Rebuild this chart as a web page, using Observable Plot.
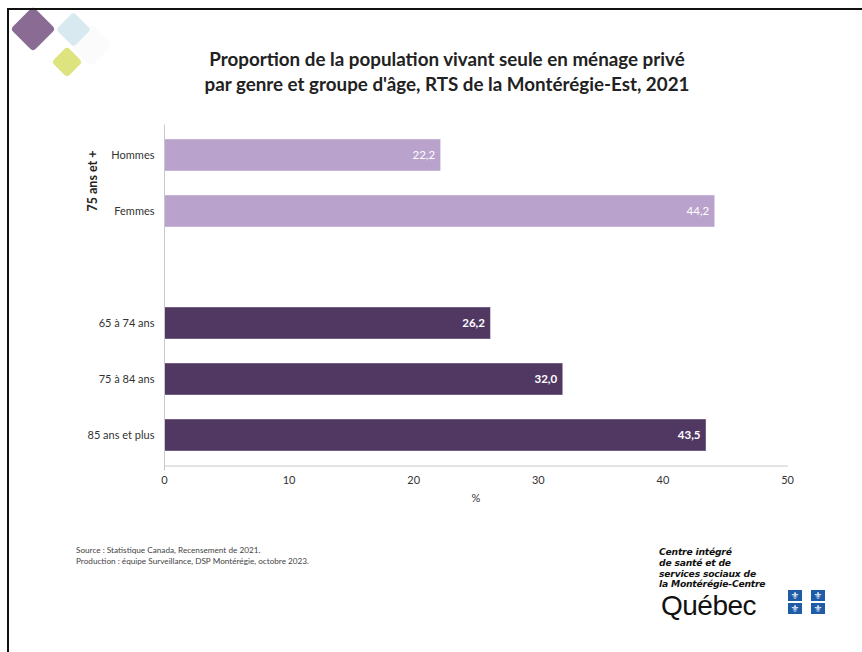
<!DOCTYPE html>
<html>
<head>
<meta charset="utf-8">
<script src="https://cdn.jsdelivr.net/npm/d3@7"></script>
<script src="https://cdn.jsdelivr.net/npm/@observablehq/plot@0.6"></script>
<style>
  html, body { margin: 0; padding: 0; background: #fff; }
  #page { position: relative; width: 862px; height: 652px; overflow: hidden; background: #fff; font-family: Lato, "Open Sans", sans-serif; }
  .border-top { position: absolute; left: 7px; top: 8px; width: 860px; height: 2px; background: #111; }
  .border-left { position: absolute; left: 7px; top: 8px; width: 2px; height: 650px; background: #111; }
  .dia { position: absolute; transform: rotate(45deg); border-radius: 4px; }
  #title { position: absolute; left: 0; width: 894px; top: 46px; text-align: center; font-weight: 700; font-size: 18.8px; line-height: 25px; color: #222; }
  #chart { position: absolute; left: 0; top: 110px; }
  #group { position: absolute; left: 92px; top: 181px; transform: translate(-50%, -50%) rotate(-90deg); font-weight: 700; font-size: 12.5px; color: #222; white-space: nowrap; }
  #source { position: absolute; left: 76px; top: 545px; font-size: 8.2px; line-height: 11px; color: #444; }
  #logo { position: absolute; left: 646px; top: 540px; width: 190px; height: 86px; }
  #logo .txt { position: absolute; left: 13px; top: 7px; font-family: "DejaVu Sans", sans-serif; font-weight: 700; font-style: italic; font-size: 9.2px; line-height: 10.8px; color: #111; letter-spacing: -0.2px; }
  #logo .qc { position: absolute; left: 15px; top: 52px; font-family: "Liberation Sans", Arial, sans-serif; font-size: 28px; line-height: 28px; color: #111; letter-spacing: -0.5px; }
  #logo .flag { position: absolute; width: 14px; height: 11px; background: #1f5ca8; color: #fff; font-size: 10px; line-height: 11px; text-align: center; font-family: "DejaVu Sans", sans-serif; }
</style>
</head>
<body>
<div id="page">
  <div class="dia" style="left:76px;top:30px;width:30px;height:30px;background:#fbfbfb;"></div>
  <div class="dia" style="left:17px;top:13px;width:32px;height:32px;background:#8a6b94;"></div>
  <div class="dia" style="left:61px;top:17px;width:25px;height:25px;background:#d7e8ef;opacity:0.95;"></div>
  <div class="dia" style="left:56px;top:51px;width:22px;height:22px;background:#dde37f;"></div>
  <div class="border-top"></div>
  <div class="border-left"></div>
  <div id="title">Proportion de la population vivant seule en ménage privé<br>par genre et groupe d'âge, RTS de la Montérégie-Est, 2021</div>
  <div id="chart"></div>
  <div id="group">75 ans et +</div>
  <div id="source">Source : Statistique Canada, Recensement de 2021.<br>Production : équipe Surveillance, DSP Montérégie, octobre 2023.</div>
  <div id="logo">
    <div class="txt">Centre intégré<br>de santé et de<br>services sociaux de<br>la Montérégie-Centre</div>
    <div class="qc">Québec</div>
    <div class="flag" style="left:142px;top:50px;">⚜</div>
    <div class="flag" style="left:165px;top:50px;">⚜</div>
    <div class="flag" style="left:142px;top:63px;">⚜</div>
    <div class="flag" style="left:165px;top:63px;">⚜</div>
  </div>
</div>
<script>
// ---- data ----
const categories = ["Hommes", "Femmes", " ", "65 à 74 ans", "75 à 84 ans", "85 ans et plus"];
const values     = [22.2, 44.2, null, 26.2, 32.0, 43.5];
const groups     = ["75 ans et +", "75 ans et +", null, "Ensemble", "Ensemble", "Ensemble"];
const xTicks     = [0, 10, 20, 30, 40, 50];

const groupDomain = ["75 ans et +", "Ensemble"];
const groupColors = ["#b9a3cc", "#503863"];

const rows = categories.map((c, i) => ({cat: c, value: values[i], group: groups[i]})).filter(d => d.value != null);
const fmt = v => v.toFixed(1).replace(".", ",");

const chart = Plot.plot({
  width: 862,
  height: 410,
  marginLeft: 164,
  marginRight: 75,
  marginTop: 14.5,
  marginBottom: 54.5,
  style: {fontFamily: "Lato, 'Open Sans', sans-serif", fontSize: "11px", color: "#333", background: "transparent"},
  x: {domain: [0, 50], ticks: xTicks, label: null},
  y: {domain: categories, paddingInner: 0.42, paddingOuter: 0.21, label: null},
  color: {domain: groupDomain, range: groupColors},
  marks: [
    Plot.barX(rows, {x: "value", y: "cat", fill: "group", stroke: "#ffffff", strokeOpacity: 0.4, strokeWidth: 1}),
    Plot.text(rows.filter(d => d.group === "75 ans et +"), {x: "value", y: "cat", text: d => fmt(d.value), textAnchor: "end", dx: -6, fill: "white", fontSize: 11.5}),
    Plot.text(rows.filter(d => d.group === "Ensemble"), {x: "value", y: "cat", text: d => fmt(d.value), textAnchor: "end", dx: -6, fill: "white", fontWeight: "bold", fontSize: 11.5}),
    Plot.ruleX([0], {stroke: "#c8c8c8", insetBottom: -5}),
    Plot.frame({anchor: "bottom", stroke: "#c8c8c8"}),
    Plot.axisY({tickSize: 0, tickPadding: 10, fontSize: 11, fill: "#333"}),
    Plot.axisX({ticks: xTicks, tickSize: 0, tickPadding: 10, tickFormat: d => String(d), fontSize: 11, fill: "#333", label: "%", labelAnchor: "center", labelArrow: "none", labelOffset: 36})
  ]
});
document.getElementById("chart").appendChild(chart);
</script>
</body>
</html>
